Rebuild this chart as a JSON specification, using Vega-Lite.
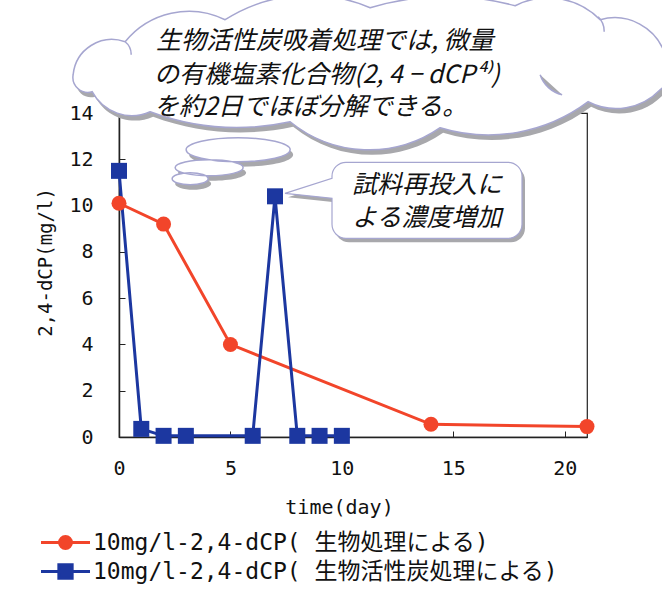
{
  "$schema": "https://vega.github.io/schema/vega-lite/v6.json",
  "width": 468,
  "height": 324,
  "autosize": {"type": "none"},
  "padding": {"left": 119, "top": 113, "right": 75, "bottom": 152},
  "background": "white",
  "config": {
    "view": {"stroke": "#222", "strokeWidth": 1.2},
    "font": "DejaVu Sans Mono",
    "legend": {
      "title": null,
      "orient": "none",
      "legendX": -65,
      "legendY": 418,
      "direction": "vertical",
      "padding": 0,
      "labelFont": "DejaVu Sans Mono, Noto Sans CJK JP",
      "labelFontSize": 23,
      "labelColor": "#111",
      "labelLimit": 700,
      "labelOffset": 16,
      "rowPadding": 3,
      "symbolSize": 196,
      "symbolStrokeWidth": 3,
      "symbolOpacity": 1
    }
  },
  "datasets": {
    "measured": [
      {"day": 0, "conc": 10.1, "series": "10mg/l-2,4-dCP( 生物処理による)"},
      {"day": 2, "conc": 9.2, "series": "10mg/l-2,4-dCP( 生物処理による)"},
      {"day": 5, "conc": 4.0, "series": "10mg/l-2,4-dCP( 生物処理による)"},
      {"day": 14, "conc": 0.55, "series": "10mg/l-2,4-dCP( 生物処理による)"},
      {"day": 21, "conc": 0.45, "series": "10mg/l-2,4-dCP( 生物処理による)"},
      {"day": 0, "conc": 11.5, "series": "10mg/l-2,4-dCP( 生物活性炭処理による)"},
      {"day": 1, "conc": 0.35, "series": "10mg/l-2,4-dCP( 生物活性炭処理による)"},
      {"day": 2, "conc": 0.05, "series": "10mg/l-2,4-dCP( 生物活性炭処理による)"},
      {"day": 3, "conc": 0.05, "series": "10mg/l-2,4-dCP( 生物活性炭処理による)"},
      {"day": 6, "conc": 0.05, "series": "10mg/l-2,4-dCP( 生物活性炭処理による)"},
      {"day": 7, "conc": 10.4, "series": "10mg/l-2,4-dCP( 生物活性炭処理による)"},
      {"day": 8, "conc": 0.05, "series": "10mg/l-2,4-dCP( 生物活性炭処理による)"},
      {"day": 9, "conc": 0.05, "series": "10mg/l-2,4-dCP( 生物活性炭処理による)"},
      {"day": 10, "conc": 0.05, "series": "10mg/l-2,4-dCP( 生物活性炭処理による)"}
    ],
    "cloudAnchor": [{"day": 11, "conc": 16}],
    "bubbleAnchor": [{"day": 7, "conc": 10.4}],
    "cloudText": [
      {"day": 1.66, "conc": 17.11, "text": "生物活性炭吸着処理では, 微量"},
      {"day": 1.57, "conc": 15.64, "text": "の有機塩素化合物(2, 4 − dCP⁴⁾)"},
      {"day": 1.57, "conc": 14.27, "text": "を約2日でほぼ分解できる。"}
    ],
    "bubbleText": [
      {"day": 13.82, "conc": 10.89, "text": "試料再投入に"},
      {"day": 13.82, "conc": 9.46, "text": "よる濃度増加"}
    ]
  },
  "encoding": {
    "x": {
      "field": "day",
      "type": "quantitative",
      "scale": {"domain": [0, 21], "nice": false},
      "axis": {
        "title": "time(day)",
        "values": [0, 5, 10, 15, 20],
        "grid": false,
        "zindex": 0,
        "domainColor": "#222",
        "domainWidth": 1.5,
        "tickColor": "#222",
        "tickSize": -6,
        "labelPadding": 37,
        "labelFont": "DejaVu Sans Mono",
        "labelFontSize": 20,
        "labelColor": "#111",
        "labelBaseline": "middle",
        "labelFlush": false,
        "titleFont": "DejaVu Sans Mono",
        "titleFontSize": 20,
        "titleFontWeight": "normal",
        "titleColor": "#111",
        "titleX": 220,
        "titleY": 70,
        "titleAlign": "center",
        "titleBaseline": "middle"
      }
    },
    "y": {
      "field": "conc",
      "type": "quantitative",
      "scale": {"domain": [0, 14], "nice": false},
      "axis": {
        "title": "2,4-dCP(mg/l)",
        "values": [0, 2, 4, 6, 8, 10, 12, 14],
        "grid": false,
        "zindex": 0,
        "domainColor": "#222",
        "domainWidth": 1.5,
        "tickColor": "#222",
        "tickSize": -6,
        "labelPadding": 32,
        "labelFont": "DejaVu Sans Mono",
        "labelFontSize": 20,
        "labelColor": "#111",
        "labelFlush": false,
        "titleFont": "DejaVu Sans Mono",
        "titleFontSize": 19,
        "titleFontWeight": "normal",
        "titleColor": "#111",
        "titleAngle": -90,
        "titleX": -74,
        "titleY": 149,
        "titleAlign": "center",
        "titleBaseline": "middle"
      }
    }
  },
  "layer": [
    {
      "data": {"name": "cloudAnchor"},
      "mark": {
        "type": "point",
        "shape": "M-291,8A39,39,0,0,1,-239,-25A82,82,0,0,1,-139,-47A156,156,0,0,1,6,-59A268,268,0,0,1,151,-61A73,73,0,0,1,236,-47A53,53,0,0,1,301,-12A25,25,0,0,1,296,23A61,61,0,0,1,224,35A166,166,0,0,1,76,61A125,125,0,0,1,-74,55A250,250,0,0,1,-214,45A45,45,0,0,1,-272,25A15,15,0,0,1,-291,8ZM-178,83A52,12,0,1,1,-74,83A52,12,0,1,1,-178,83ZM-189,101A34,8,0,1,1,-121,101A34,8,0,1,1,-189,101ZM-192,112A18,6,0,1,1,-156,112A18,6,0,1,1,-192,112Z",
        "size": 4,
        "filled": true,
        "fill": "#a8a8ac",
        "strokeWidth": 0,
        "opacity": 1,
        "xOffset": 3,
        "yOffset": 5
      }
    },
    {
      "data": {"name": "cloudAnchor"},
      "mark": {
        "type": "point",
        "shape": "M-291,8A39,39,0,0,1,-239,-25A82,82,0,0,1,-139,-47A156,156,0,0,1,6,-59A268,268,0,0,1,151,-61A73,73,0,0,1,236,-47A53,53,0,0,1,301,-12A25,25,0,0,1,296,23A61,61,0,0,1,224,35A166,166,0,0,1,76,61A125,125,0,0,1,-74,55A250,250,0,0,1,-214,45A45,45,0,0,1,-272,25A15,15,0,0,1,-291,8ZM-178,83A52,12,0,1,1,-74,83A52,12,0,1,1,-178,83ZM-189,101A34,8,0,1,1,-121,101A34,8,0,1,1,-189,101ZM-192,112A18,6,0,1,1,-156,112A18,6,0,1,1,-192,112ZM176,8A30,30,0,0,0,198,28M234,-50A20,20,0,0,1,240,-35M-239,-25A16,16,0,0,1,-233,-12",
        "size": 4,
        "filled": true,
        "fill": "#ffffff",
        "stroke": "#a6a6d0",
        "strokeWidth": 1.5,
        "opacity": 1
      }
    },
    {
      "data": {"name": "bubbleAnchor"},
      "mark": {
        "type": "point",
        "shape": "M10,-3L57,-18V-20A14,14,0,0,1,71,-34H233A14,14,0,0,1,247,-20V28A14,14,0,0,1,233,42H71A14,14,0,0,1,57,28V2Z",
        "size": 4,
        "filled": true,
        "fill": "#a8a8ac",
        "strokeWidth": 0,
        "opacity": 1,
        "xOffset": 3,
        "yOffset": 4
      }
    },
    {
      "data": {"name": "bubbleAnchor"},
      "mark": {
        "type": "point",
        "shape": "M10,-3L57,-18V-20A14,14,0,0,1,71,-34H233A14,14,0,0,1,247,-20V28A14,14,0,0,1,233,42H71A14,14,0,0,1,57,28V2Z",
        "size": 4,
        "filled": true,
        "fill": "#ffffff",
        "stroke": "#a6a6d0",
        "strokeWidth": 1.2,
        "opacity": 1
      }
    },
    {
      "data": {"name": "cloudText"},
      "mark": {
        "type": "text",
        "align": "left",
        "baseline": "middle",
        "font": "Noto Sans CJK JP",
        "fontSize": 25,
        "fontStyle": "italic",
        "color": "#111"
      },
      "encoding": {"text": {"field": "text"}}
    },
    {
      "data": {"name": "bubbleText"},
      "mark": {
        "type": "text",
        "align": "center",
        "baseline": "middle",
        "font": "Noto Sans CJK JP",
        "fontSize": 25,
        "fontStyle": "italic",
        "color": "#111"
      },
      "encoding": {"text": {"field": "text"}}
    },
    {
      "data": {"name": "measured"},
      "mark": {"type": "line", "strokeWidth": 3},
      "encoding": {
        "color": {
          "field": "series",
          "type": "nominal",
          "sort": null,
          "scale": {
            "domain": ["10mg/l-2,4-dCP( 生物処理による)", "10mg/l-2,4-dCP( 生物活性炭処理による)"],
            "range": ["#f2452a", "#1c37a0"]
          },
          "legend": {
            "encode": {
              "symbols": {
                "update": {
                  "shape": {"signal": "indexof(datum.value, '活性炭') >= 0 ? 'M-3.5,0H3.5M-0.95,-0.95H0.95V0.95H-0.95Z' : 'M-3.5,0H3.5M0.85,0A0.85,0.85,0,1,1,-0.85,0A0.85,0.85,0,1,1,0.85,0Z'"},
                  "fill": {"scale": "color", "field": "value"},
                  "stroke": {"scale": "color", "field": "value"},
                  "strokeWidth": {"value": 3},
                  "opacity": {"value": 1}
                }
              }
            }
          }
        }
      }
    },
    {
      "data": {"name": "measured"},
      "transform": [{"filter": "indexof(datum.series, '活性炭') < 0"}],
      "mark": {"type": "point", "shape": "circle", "size": 225, "filled": true, "opacity": 1, "strokeWidth": 0, "color": "#f2452a"}
    },
    {
      "data": {"name": "measured"},
      "transform": [{"filter": "indexof(datum.series, '活性炭') >= 0"}],
      "mark": {"type": "point", "shape": "square", "size": 256, "filled": true, "opacity": 1, "strokeWidth": 0, "color": "#1c37a0"}
    }
  ]
}
